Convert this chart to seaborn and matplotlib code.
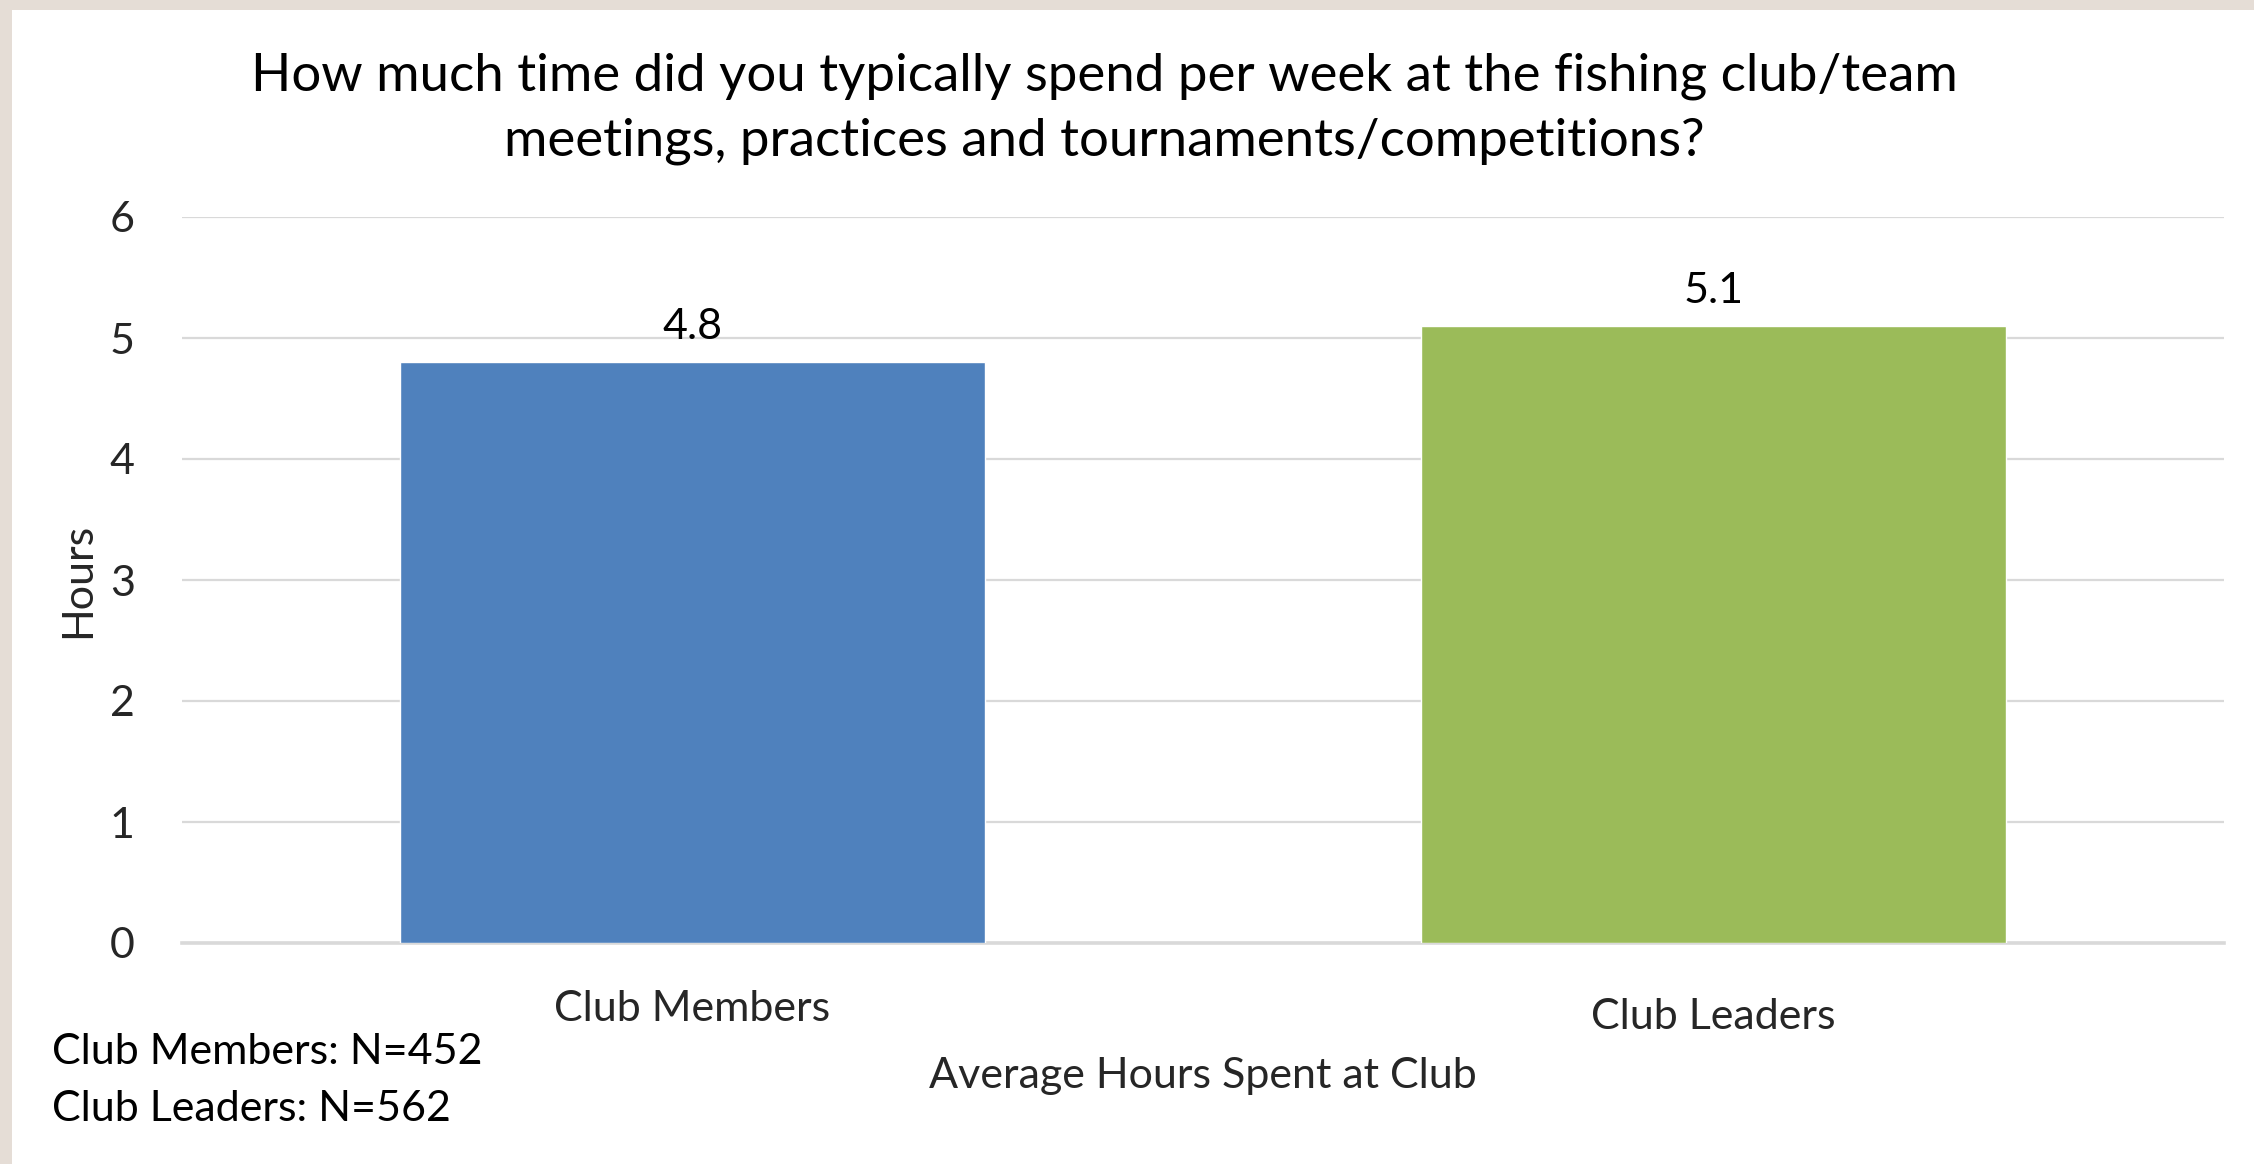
import matplotlib
matplotlib.use("Agg")
import matplotlib.pyplot as plt
import matplotlib.transforms as mtransforms
from matplotlib.patches import Rectangle
import seaborn as sns
import pandas as pd

# Survey data
categories = ["Club Members", "Club Leaders"]
hours = [4.8, 5.1]
bar_colors = ["#4f81bd", "#9bbb59"]
sample_notes = ["Club Members: N=452", "Club Leaders: N=562"]
y_ticks = [0, 1, 2, 3, 4, 5, 6]

title = ("How much time did you typically spend per week at the fishing club/team\n"
         "meetings, practices and tournaments/competitions?")

sns.set_theme(style="white")
plt.rcParams["font.family"] = ["Lato", "DejaVu Sans"]

W, H = 2254, 1164
dpi = 100
FS = 31
fig = plt.figure(figsize=(W / dpi, H / dpi), dpi=dpi)
fig.patch.set_facecolor("#e5ddd6")

# white slide area inside the beige frame
fig.patches.append(Rectangle((12 / W, 0), 1 - 12 / W, 1 - 10 / H,
                             transform=fig.transFigure, facecolor="white",
                             edgecolor="none", zorder=-10))

ax = fig.add_axes([182 / W, (H - 943) / H, (2224 - 182) / W, (943 - 217) / H])
ax.set_facecolor("none")

df = pd.DataFrame({"category": categories, "hours": hours})
sns.barplot(data=df, x="category", y="hours", hue="category",
            palette=bar_colors, saturation=1, width=0.573,
            legend=False, ax=ax, zorder=3)

ax.set_ylim(0, 6)
ax.set_yticks(y_ticks)
ax.yaxis.grid(True, color="#d9d9d9", linewidth=1.6, zorder=0)
ax.set_axisbelow(True)
for side in ["top", "right", "left"]:
    ax.spines[side].set_visible(False)
ax.spines["bottom"].set_color("#d9d9d9")
ax.spines["bottom"].set_linewidth(2.6)

ax.tick_params(axis="y", length=0, pad=34, labelsize=FS)
ax.tick_params(axis="x", length=0, pad=34, labelsize=FS)
ax.set_xlabel("Average Hours Spent at Club", fontsize=FS, labelpad=15)
ax.set_ylabel("Hours", fontsize=FS, labelpad=9)

# second category label sits a little lower
lbls = ax.get_xticklabels()
lbls[1].set_transform(lbls[1].get_transform() +
                      mtransforms.ScaledTranslation(0, -8 / dpi, fig.dpi_scale_trans))

# value labels above bars
for patch, val in zip(ax.patches, hours):
    ax.annotate(f"{val:.1f}", (patch.get_x() + patch.get_width() / 2, patch.get_height()),
                xytext=(0, 25), textcoords="offset points",
                ha="center", va="center", fontsize=FS, color="black")

fig.text(1104 / W, 1 - 109 / H, title, ha="center", va="center",
         fontsize=38, linespacing=1.45, color="black")

for i, note in enumerate(sample_notes):
    fig.text(52 / W, 1 - (1052 + 57 * i) / H, note, ha="left", va="center",
             fontsize=FS, color="black")

fig.savefig("out.png", dpi=dpi, facecolor=fig.get_facecolor())
